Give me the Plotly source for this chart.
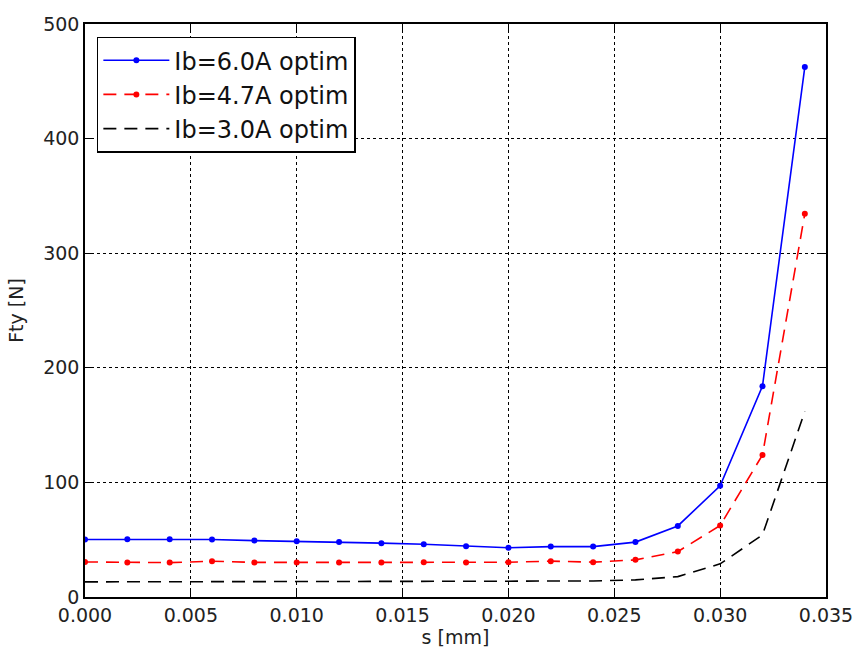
import plotly.graph_objects as go

s_mm = [0.000, 0.002, 0.004, 0.006, 0.008, 0.010, 0.012, 0.014, 0.016,
        0.018, 0.020, 0.022, 0.024, 0.026, 0.028, 0.030, 0.032, 0.034]
f_6a = [50.2, 50.4, 50.3, 50.2, 49.2, 48.6, 48.0, 47.0, 46.0,
        44.2, 43.0, 44.0, 44.0, 47.9, 62.0, 97.0, 184.0, 462.5]
f_47a = [30.6, 30.2, 30.0, 31.2, 30.2, 30.2, 30.2, 30.2, 30.3,
         30.2, 30.3, 31.3, 30.4, 32.4, 39.6, 62.4, 124.0, 334.5]
f_3a = [13.2, 13.2, 13.2, 13.3, 13.3, 13.3, 13.4, 13.5, 13.6,
        13.7, 13.8, 14.0, 14.0, 14.9, 17.8, 28.9, 54.2, 162.0]
labels = ["Ib=6.0A optim", "Ib=4.7A optim", "Ib=3.0A optim"]
x_ticks = [0.000, 0.005, 0.010, 0.015, 0.020, 0.025, 0.030, 0.035]
y_ticks = [0, 100, 200, 300, 400, 500]

fig = go.Figure()
fig.add_trace(go.Scatter(x=s_mm, y=f_6a, mode="lines+markers", name=labels[0],
                         line=dict(color="#0000ff", width=1.6),
                         marker=dict(color="#0000ff", size=6)))
fig.add_trace(go.Scatter(x=s_mm, y=f_47a, mode="lines+markers", name=labels[1],
                         line=dict(color="#ff0000", width=1.6, dash="13px,8px"),
                         marker=dict(color="#ff0000", size=6)))
fig.add_trace(go.Scatter(x=s_mm, y=f_3a, mode="lines", name=labels[2],
                         line=dict(color="#000000", width=1.6, dash="13px,8px")))

axis_common = dict(
    showline=True, linecolor="black", linewidth=1.5, mirror="ticks",
    ticks="inside", ticklen=6, tickcolor="black", tickwidth=1,
    showgrid=True, gridcolor="black", gridwidth=0.8, griddash="dot",
    zeroline=False, automargin=False,
    tickfont=dict(family="DejaVu Sans", size=19, color="#222"),
)

fig.update_xaxes(range=[0, 0.035], tickvals=x_ticks,
                 ticktext=[f"{v:.3f}" for v in x_ticks],
                 title=dict(text="s [mm]", standoff=0,
                            font=dict(family="DejaVu Sans", size=19, color="#222")),
                 **axis_common)
fig.update_yaxes(range=[0, 500], tickvals=y_ticks,
                 title=dict(text="Fty [N]",
                            font=dict(family="DejaVu Sans", size=19, color="#222")),
                 **axis_common)

fig.update_layout(
    width=854, height=652,
    margin=dict(l=85, r=28, t=24, b=55, autoexpand=False),
    plot_bgcolor="white", paper_bgcolor="white",
    legend=dict(x=0.016, y=0.978, xanchor="left", yanchor="top",
                bordercolor="black", borderwidth=1.5, bgcolor="white",
                font=dict(family="DejaVu Sans", size=24, color="#111"),
                itemwidth=66, tracegroupgap=0),
    showlegend=True,
)

fig.write_html("out.html", config={"displayModeBar": False},
               post_script="document.body.style.margin='0';document.body.style.overflow='hidden';")
